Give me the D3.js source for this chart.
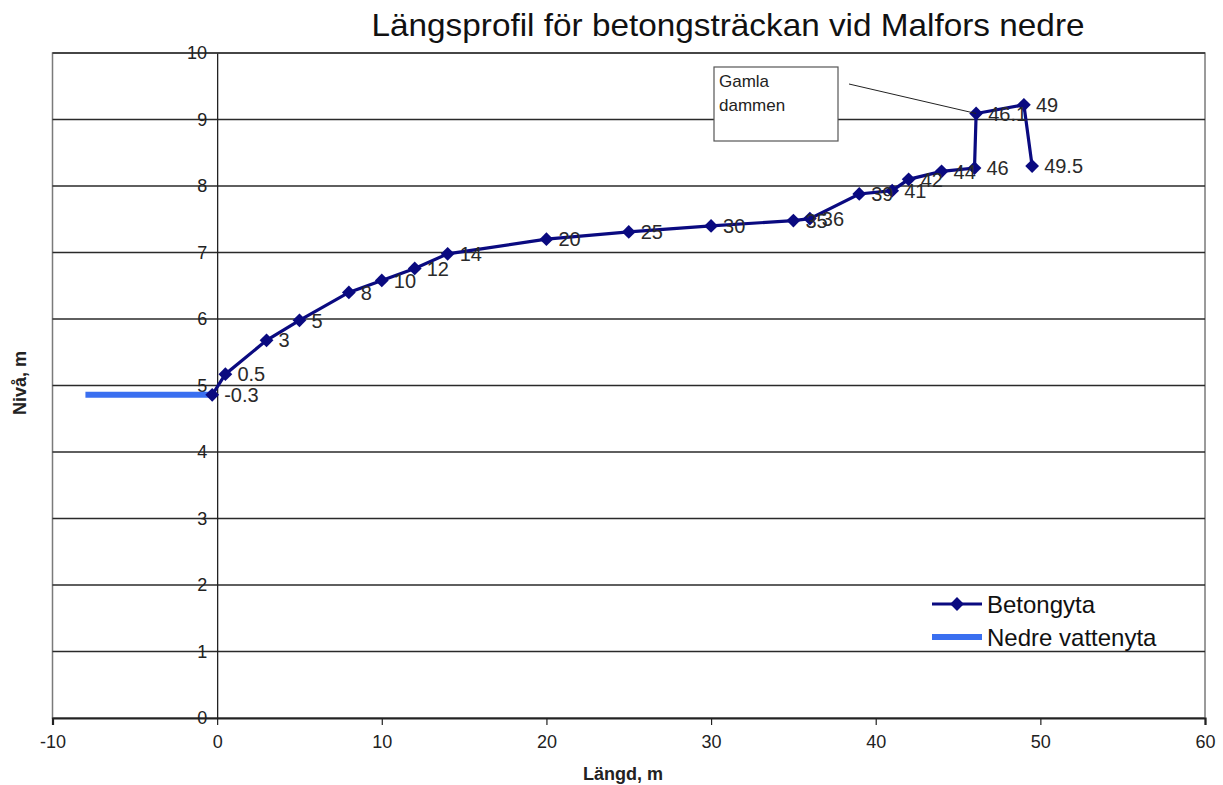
<!DOCTYPE html>
<html><head><meta charset="utf-8">
<script src="https://cdn.jsdelivr.net/npm/d3@7"></script>
<style>
body{margin:0;background:#fff;}
text{font-family:Arial,"Liberation Sans",sans-serif;}
</style></head>
<body>
<svg id="chart" width="1223" height="785"></svg>
<script>
const title = "Längsprofil för betongsträckan vid Malfors nedre";
const xTitle = "Längd, m";
const yTitle = "Nivå, m";
const xTicks = [-10, 0, 10, 20, 30, 40, 50, 60];
const yTicks = [0, 1, 2, 3, 4, 5, 6, 7, 8, 9, 10];
const betongX = [-0.3, 0.5, 3, 5, 8, 10, 12, 14, 20, 25, 30, 35, 36, 39, 41, 42, 44, 46, 46.1, 49, 49.5];
const betongY = [4.86, 5.17, 5.68, 5.98, 6.40, 6.58, 6.76, 6.98, 7.20, 7.31, 7.40, 7.48, 7.51, 7.88, 7.93, 8.10, 8.22, 8.27, 9.09, 9.22, 8.30];
const betongLabels = ["-0.3","0.5","3","5","8","10","12","14","20","25","30","35","36","39","41","42","44","46","46.1","49","49.5"];
const vattenX = [-8, -0.3];
const vattenY = [4.86, 4.86];
const seriesNames = ["Betongyta", "Nedre vattenyta"];
const annotationLines = ["Gamla", "dammen"];
const annotationTarget = 18; // index of point 46.1

const svg = d3.select("#chart");
const L = 52.5, R = 1205, T = 53, B = 718;
const x = d3.scaleLinear().domain([-10, 60]).range([L, R]);
const y = d3.scaleLinear().domain([0, 10]).range([B, T]);
const navy = "#0a0a80", blue = "#3a6ff0";

// plot border
svg.append("rect").attr("x", L).attr("y", T).attr("width", R - L).attr("height", B - T)
  .attr("fill", "none").attr("stroke", "#7a7a7a").attr("stroke-width", 1.5);

// gridlines
svg.append("g").selectAll("line").data(yTicks.filter(d => d > 0)).join("line")
  .attr("x1", L).attr("x2", R).attr("y1", d => y(d)).attr("y2", d => y(d))
  .attr("stroke", "#2a2a2a").attr("stroke-width", 1.3);

// y axis at x=0
const yAxis = svg.append("g").attr("transform", `translate(${x(0)},0)`)
  .call(d3.axisLeft(y).tickValues(yTicks).tickSize(0).tickPadding(10).tickFormat(d => String(d)));
yAxis.select(".domain").attr("stroke", "#222").attr("stroke-width", 1.3);
yAxis.selectAll("text").attr("font-size", 18).attr("fill", "#222").attr("font-family", "Arial, 'Liberation Sans', sans-serif");

// x axis
const xAxis = svg.append("g").attr("transform", `translate(0,${B})`)
  .call(d3.axisBottom(x).tickValues(xTicks).tickSize(7).tickPadding(10).tickFormat(d => String(d)));
xAxis.select(".domain").attr("stroke", "#222").attr("stroke-width", 2.2);
xAxis.selectAll(".tick line").attr("stroke", "#222").attr("stroke-width", 1.2);
xAxis.selectAll("text").attr("font-size", 18).attr("fill", "#222").attr("font-family", "Arial, 'Liberation Sans', sans-serif");

// titles
svg.append("text").attr("x", 728).attr("y", 36).attr("text-anchor", "middle")
  .attr("font-size", 32).attr("fill", "#111").attr("textLength", 713).attr("lengthAdjust", "spacingAndGlyphs").text(title);
svg.append("text").attr("x", 623).attr("y", 780).attr("text-anchor", "middle")
  .attr("font-size", 18).attr("font-weight", "bold").attr("fill", "#222").text(xTitle);
svg.append("text").attr("transform", "translate(26,383) rotate(-90)").attr("text-anchor", "middle")
  .attr("font-size", 18).attr("font-weight", "bold").attr("fill", "#222").text(yTitle);

// water line
const vData = vattenX.map((d, i) => [d, vattenY[i]]);
svg.append("path").datum(vData)
  .attr("d", d3.line().x(d => x(d[0])).y(d => y(d[1])))
  .attr("fill", "none").attr("stroke", blue).attr("stroke-width", 6);

// betong line
const bData = betongX.map((d, i) => ({x: d, y: betongY[i], label: betongLabels[i]}));
svg.append("path").datum(bData)
  .attr("d", d3.line().x(d => x(d.x)).y(d => y(d.y)))
  .attr("fill", "none").attr("stroke", navy).attr("stroke-width", 3.2);

const diamond = d3.symbol().type(d3.symbolSquare).size(95);
svg.append("g").selectAll("path").data(bData).join("path")
  .attr("d", diamond).attr("transform", d => `translate(${x(d.x)},${y(d.y)}) rotate(45)`)
  .attr("fill", navy);

svg.append("g").selectAll("text").data(bData).join("text")
  .attr("x", d => x(d.x) + 12).attr("y", d => y(d.y)).attr("dy", "0.36em")
  .attr("font-size", 20).attr("fill", "#2a2a2a").text(d => d.label);

// annotation
const tgt = bData[annotationTarget];
svg.append("line").attr("x1", 849).attr("y1", 84).attr("x2", x(tgt.x)).attr("y2", y(tgt.y))
  .attr("stroke", "#222").attr("stroke-width", 1);
svg.append("rect").attr("x", 714).attr("y", 67).attr("width", 124).attr("height", 74)
  .attr("fill", "#fff").attr("stroke", "#555").attr("stroke-width", 1.2);
svg.append("g").selectAll("text").data(annotationLines).join("text")
  .attr("x", 719).attr("y", (d, i) => 87 + i * 24).attr("font-size", 17).attr("fill", "#222").text(d => d);

// legend
const leg = svg.append("g");
const legY = [604, 637];
leg.append("line").attr("x1", 932).attr("x2", 982).attr("y1", legY[0]).attr("y2", legY[0])
  .attr("stroke", navy).attr("stroke-width", 3.2);
leg.append("path").attr("d", diamond).attr("transform", `translate(957,${legY[0]}) rotate(45)`).attr("fill", navy);
leg.append("line").attr("x1", 932).attr("x2", 982).attr("y1", legY[1]).attr("y2", legY[1])
  .attr("stroke", blue).attr("stroke-width", 6);
leg.selectAll("text").data(seriesNames).join("text")
  .attr("x", 987).attr("y", (d, i) => legY[i]).attr("dy", "0.36em")
  .attr("font-size", 24).attr("fill", "#111").text(d => d);
</script>
</body></html>
